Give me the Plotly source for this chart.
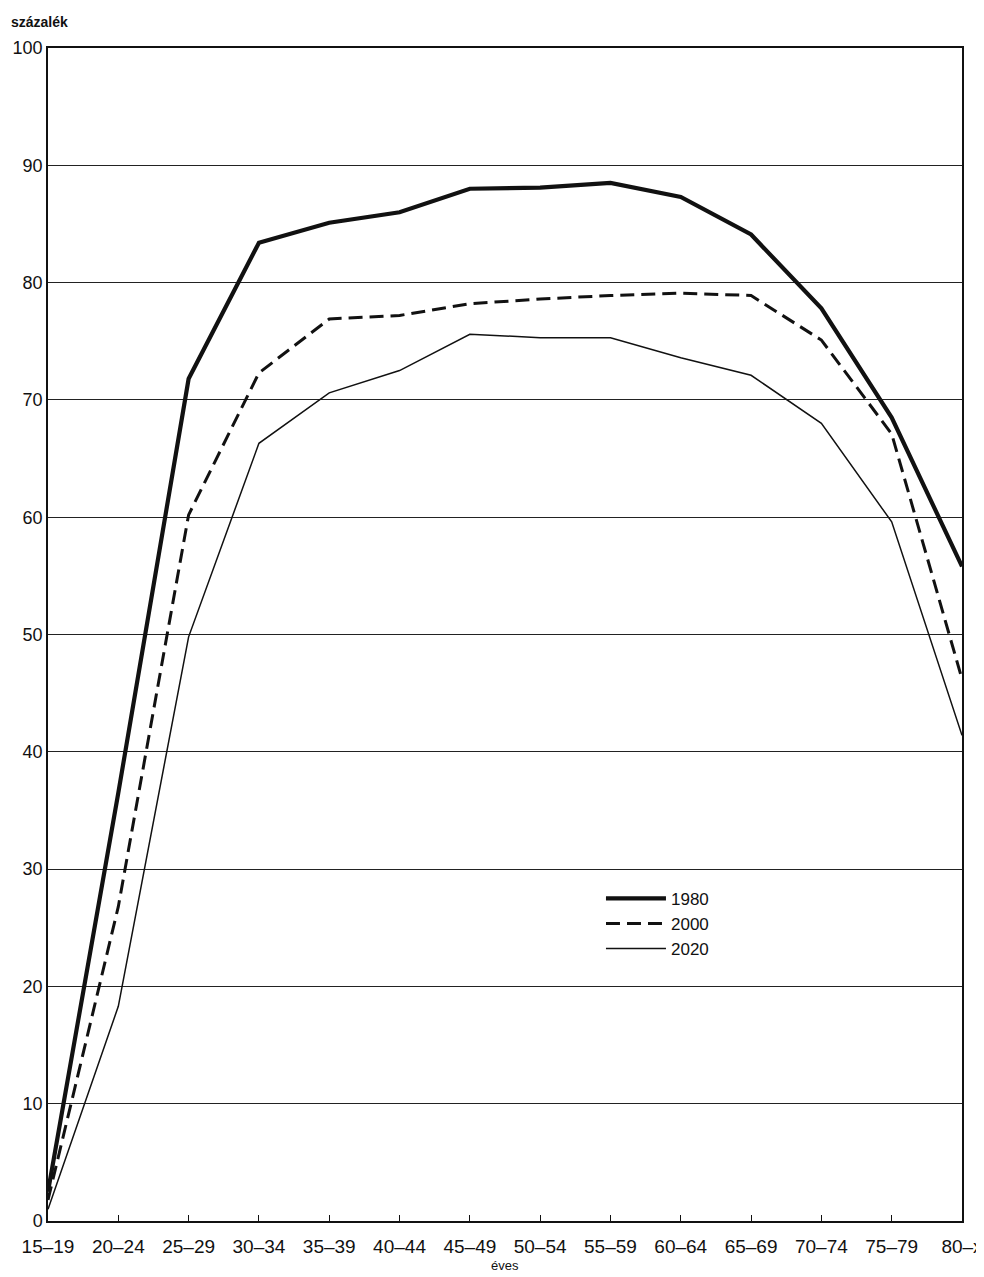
import plotly.graph_objects as go

categories = ["15–19", "20–24", "25–29", "30–34", "35–39", "40–44", "45–49",
              "50–54", "55–59", "60–64", "65–69", "70–74", "75–79", "80–x"]
v1980 = [2.5, 36.5, 71.8, 83.4, 85.1, 86.0, 88.0, 88.1, 88.5, 87.3, 84.1, 77.8, 68.5, 55.8]
v2000 = [1.8, 26.8, 60.2, 72.3, 76.9, 77.2, 78.2, 78.6, 78.9, 79.1, 78.9, 75.1, 67.1, 46.2]
v2020 = [1.0, 18.3, 49.8, 66.3, 70.6, 72.5, 75.6, 75.3, 75.3, 73.6, 72.1, 68.0, 59.6, 41.4]
series_names = ["1980", "2000", "2020"]
y_ticks = list(range(0, 101, 10))

FONT = "Liberation Sans, Arial, sans-serif"
INK = "#111111"

fig = go.Figure()
fig.add_trace(go.Scatter(x=categories, y=v1980, name=series_names[0], mode="lines",
                         line=dict(color=INK, width=4.2)))
fig.add_trace(go.Scatter(x=categories, y=v2000, name=series_names[1], mode="lines",
                         line=dict(color=INK, width=3, dash="14px,7px")))
fig.add_trace(go.Scatter(x=categories, y=v2020, name=series_names[2], mode="lines",
                         line=dict(color=INK, width=1.5)))

# page body has an 8px default margin, so the figure is 8px smaller
fig.update_layout(
    width=976, height=1269,
    margin=dict(l=40, r=22, t=40, b=56, autoexpand=False),
    paper_bgcolor="white", plot_bgcolor="white",
    font=dict(family=FONT, color=INK, size=18),
    showlegend=True,
    legend=dict(x=0.605, y=0.29, xanchor="left", yanchor="top",
                bgcolor="rgba(0,0,0,0)", font=dict(size=17, family=FONT),
                tracegroupgap=0, itemwidth=60),
    xaxis=dict(type="category", range=[0, 13], showgrid=False, automargin=False,
               showline=True, linecolor=INK, linewidth=1.5, mirror=True,
               ticks="inside", ticklen=6, tickcolor=INK, tickwidth=1.2,
               ticklabelstandoff=7,
               tickfont=dict(size=19, family=FONT)),
    yaxis=dict(range=[0, 100], tickvals=y_ticks, showgrid=True, automargin=False,
               gridcolor="#222222", gridwidth=1.1, zeroline=False,
               showline=True, linecolor=INK, linewidth=1.5, mirror=True,
               ticks="", ticklabelstandoff=0,
               tickfont=dict(size=18, family=FONT)),
    annotations=[
        dict(text="<b>százalék</b>", xref="paper", yref="paper",
             x=-0.043, y=1.022, xanchor="left", yanchor="middle",
             showarrow=False, font=dict(size=14, family=FONT, color=INK)),
        dict(text="éves", xref="paper", yref="paper",
             x=0.5, y=-0.038, xanchor="center", yanchor="middle",
             showarrow=False, font=dict(size=13, family=FONT, color=INK)),
    ],
)

fig.write_html("out.html")
